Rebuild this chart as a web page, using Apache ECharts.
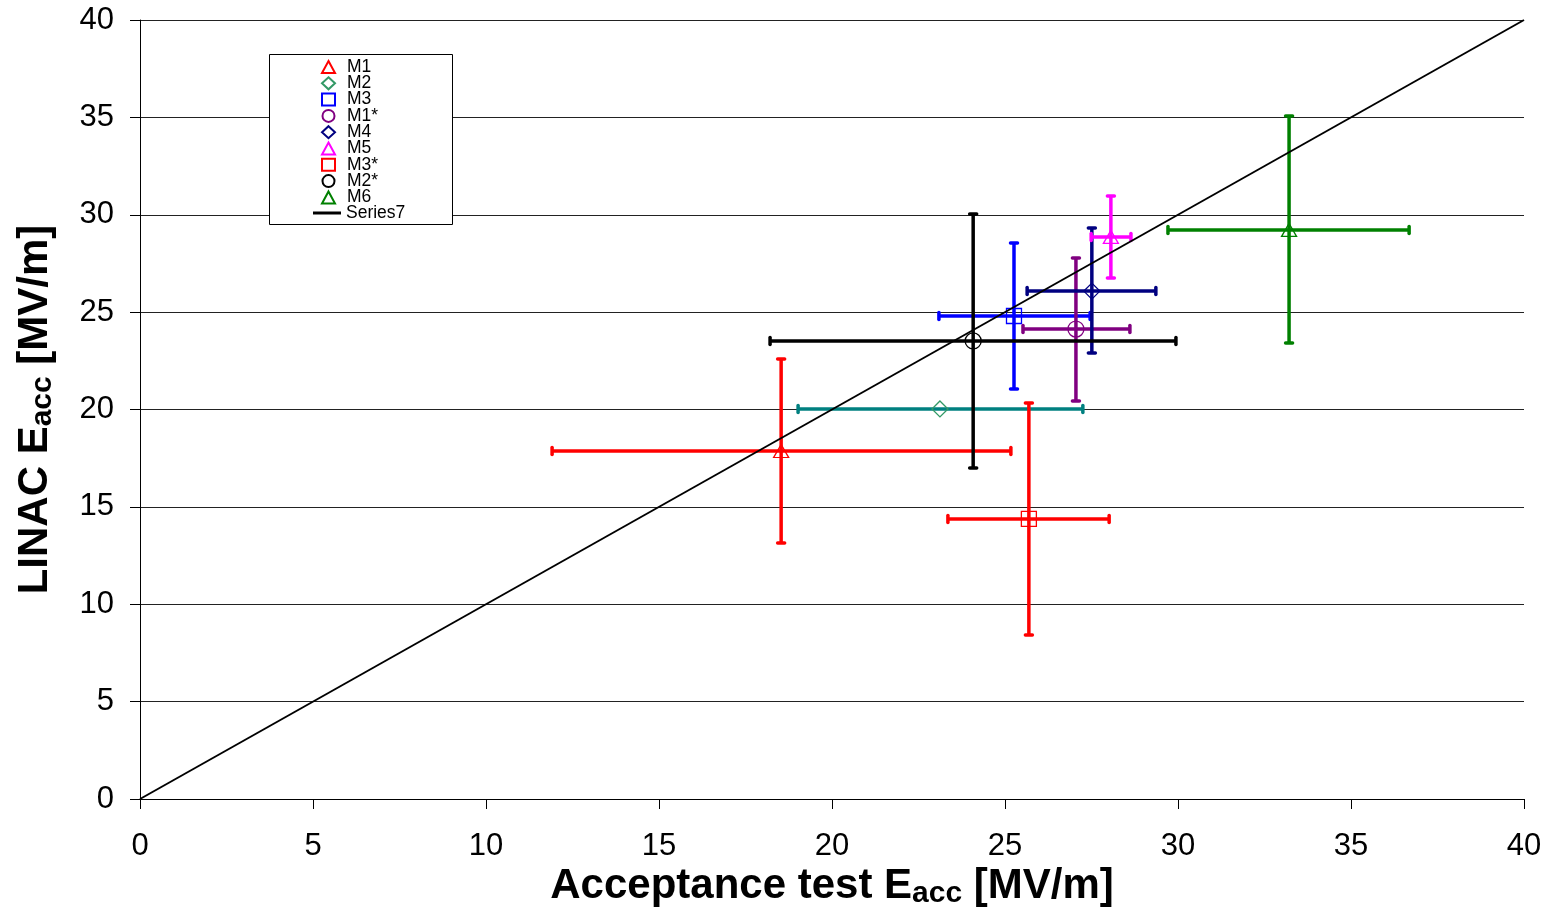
<!DOCTYPE html>
<html>
<head>
<meta charset="utf-8">
<script src="https://cdn.jsdelivr.net/npm/echarts@6/dist/echarts.min.js"></script>
<style>
html,body{margin:0;padding:0;background:#fff;}
#chart{width:1548px;height:911px;}
</style>
</head>
<body>
<div id="chart"></div>
<script>
// ---- data ----
const seriesNames = ['M1', 'M2', 'M3', 'M1*', 'M4', 'M5', 'M3*', 'M2*', 'M6'];
const xValues = [18.53, 23.12, 25.26, 27.05, 27.51, 28.06, 25.69, 24.08, 33.21];
const yValues = [17.87, 20.03, 24.80, 24.13, 26.08, 28.86, 14.38, 23.52, 29.22];
const xLow    = [11.91, 19.02, 23.09, 25.52, 25.64, 27.49, 23.35, 18.21, 29.71];
const xHigh   = [25.17, 27.25, 27.46, 28.61, 29.36, 28.64, 28.01, 29.94, 36.68];
const yLow    = [13.15, null, 21.05, 20.44, 22.90, 26.75, 8.42, 17.00, 23.41];
const yHigh   = [22.59, null, 28.55, 27.78, 29.32, 30.96, 20.33, 30.04, 35.07];
const lineName = 'Series7';
const lineX = [0, 40];
const lineY = [0, 40];

// ---- styles ----
const markerColors = ['#FF0000', '#339966', '#0000FF', '#800080', '#000080', '#FF00FF', '#FF0000', '#000000', '#008000'];
const barColors    = ['#FF0000', '#008080', '#0000FF', '#800080', '#000080', '#FF00FF', '#FF0000', '#000000', '#008000'];
const symbols = ['triangle', 'diamond', 'rect', 'circle', 'diamond', 'triangle', 'rect', 'circle', 'triangle'];
const symbolSizes = [[15, 13], [16, 16], [15, 15], [16, 16], [16, 16], [15, 13], [15, 15], [16, 16], [15, 13]];

const FONT = 'Liberation Sans, Arial, sans-serif';

const chart = echarts.init(document.getElementById('chart'), null, {renderer: 'canvas'});

function errorBarSeries(i) {
  return {
    type: 'custom',
    name: seriesNames[i] + '_err',
    silent: true,
    z: 2,
    data: [[xValues[i], yValues[i], xLow[i], xHigh[i], yLow[i], yHigh[i]]],
    encode: {x: 0, y: 1},
    renderItem: function (params, api) {
      const x = api.value(0), y = api.value(1);
      const style = {stroke: barColors[i], lineWidth: 3.5, lineCap: 'butt'};
      const capStyle = {stroke: barColors[i], lineWidth: 3.5, lineCap: 'round'};
      const cap = 3.5;
      const children = [];
      const xl = api.value(2), xh = api.value(3);
      const p1 = api.coord([xl, y]), p2 = api.coord([xh, y]);
      children.push({type: 'line', shape: {x1: p1[0], y1: p1[1], x2: p2[0], y2: p2[1]}, style: style});
      children.push({type: 'line', shape: {x1: p1[0], y1: p1[1] - cap, x2: p1[0], y2: p1[1] + cap}, style: capStyle});
      children.push({type: 'line', shape: {x1: p2[0], y1: p2[1] - cap, x2: p2[0], y2: p2[1] + cap}, style: capStyle});
      if (yLow[i] !== null && yHigh[i] !== null) {
        const q1 = api.coord([x, api.value(4)]), q2 = api.coord([x, api.value(5)]);
        children.push({type: 'line', shape: {x1: q1[0], y1: q1[1], x2: q2[0], y2: q2[1]}, style: style});
        children.push({type: 'line', shape: {x1: q1[0] - cap, y1: q1[1], x2: q1[0] + cap, y2: q1[1]}, style: capStyle});
        children.push({type: 'line', shape: {x1: q2[0] - cap, y1: q2[1], x2: q2[0] + cap, y2: q2[1]}, style: capStyle});
      }
      return {type: 'group', children: children};
    }
  };
}

const series = [];
for (let i = 0; i < seriesNames.length; i++) series.push(errorBarSeries(i));
for (let i = 0; i < seriesNames.length; i++) {
  series.push({
    type: 'scatter',
    name: seriesNames[i],
    symbol: symbols[i],
    symbolSize: symbolSizes[i],
    z: 3,
    itemStyle: {color: 'rgba(255,255,255,0)', borderColor: markerColors[i], borderWidth: 1.3, opacity: 1},
    emphasis: {disabled: true},
    data: [[xValues[i], yValues[i]]]
  });
}
series.push({
  type: 'line',
  name: lineName,
  symbol: 'none',
  showSymbol: false,
  z: 4,
  lineStyle: {color: '#000', width: 2},
  itemStyle: {color: '#000'},
  data: lineX.map((v, k) => [v, lineY[k]])
});

const subRich = {
  a: {fontFamily: FONT, fontSize: 42, fontWeight: 'bold', color: '#000', lineHeight: 44, verticalAlign: 'top'},
  s: {fontFamily: FONT, fontSize: 30, fontWeight: 'bold', color: '#000', lineHeight: 30, verticalAlign: 'bottom', padding: [22, 0, 0, 0]}
};

const legendText = {fontFamily: FONT, fontSize: 17.5, color: '#000'};

const option = {
  animation: false,
  backgroundColor: '#fff',
  grid: {left: 140, right: 24, top: 20, bottom: 112, containLabel: false, outerBoundsMode: 'none'},
  graphic: [{
    type: 'rect',
    left: 269, top: 54,
    shape: {width: 183, height: 170},
    style: {fill: '#fff', stroke: '#000', lineWidth: 1},
    z: 10
  }],
  legend: [{
    orient: 'vertical',
    left: 321,
    top: 58,
    padding: 0,
    itemWidth: 13,
    itemHeight: 12,
    itemGap: -1.7,
    selectedMode: false,
    z: 20,
    data: seriesNames,
    textStyle: Object.assign({padding: [0, 0, 0, 7]}, legendText)
  }, {
    orient: 'vertical',
    left: 313,
    top: 204,
    padding: 0,
    itemWidth: 28,
    itemHeight: 3,
    selectedMode: false,
    z: 20,
    data: [{name: lineName, icon: 'rect', itemStyle: {color: '#000', borderWidth: 0}}],
    textStyle: legendText
  }],
  xAxis: {
    type: 'value',
    min: 0, max: 40, interval: 5,
    name: '{a|Acceptance test E}{s|acc}{a| [MV/m]}',
    nameLocation: 'middle',
    nameGap: 66,
    nameMoveOverlap: false,
    nameTextStyle: {rich: subRich},
    axisLine: {show: true, onZero: false, lineStyle: {color: '#000', width: 1}},
    axisTick: {show: true, inside: false, length: 10, lineStyle: {color: '#000'}},
    axisLabel: {fontFamily: FONT, fontSize: 31, color: '#000', margin: 32},
    splitLine: {show: false}
  },
  yAxis: {
    type: 'value',
    min: 0, max: 40, interval: 5,
    name: '{a|LINAC E}{s|acc}{a| [MV/m]}',
    nameLocation: 'middle',
    nameGap: 82,
    nameRotate: 90,
    nameMoveOverlap: false,
    nameTextStyle: {rich: subRich},
    axisLine: {show: true, onZero: false, lineStyle: {color: '#000', width: 1}},
    axisTick: {show: true, inside: false, length: 10, lineStyle: {color: '#000'}},
    axisLabel: {fontFamily: FONT, fontSize: 31, color: '#000', margin: 26},
    splitLine: {show: true, lineStyle: {color: '#222', width: 1}}
  },
  series: series
};
chart.setOption(option);
</script>
</body>
</html>
